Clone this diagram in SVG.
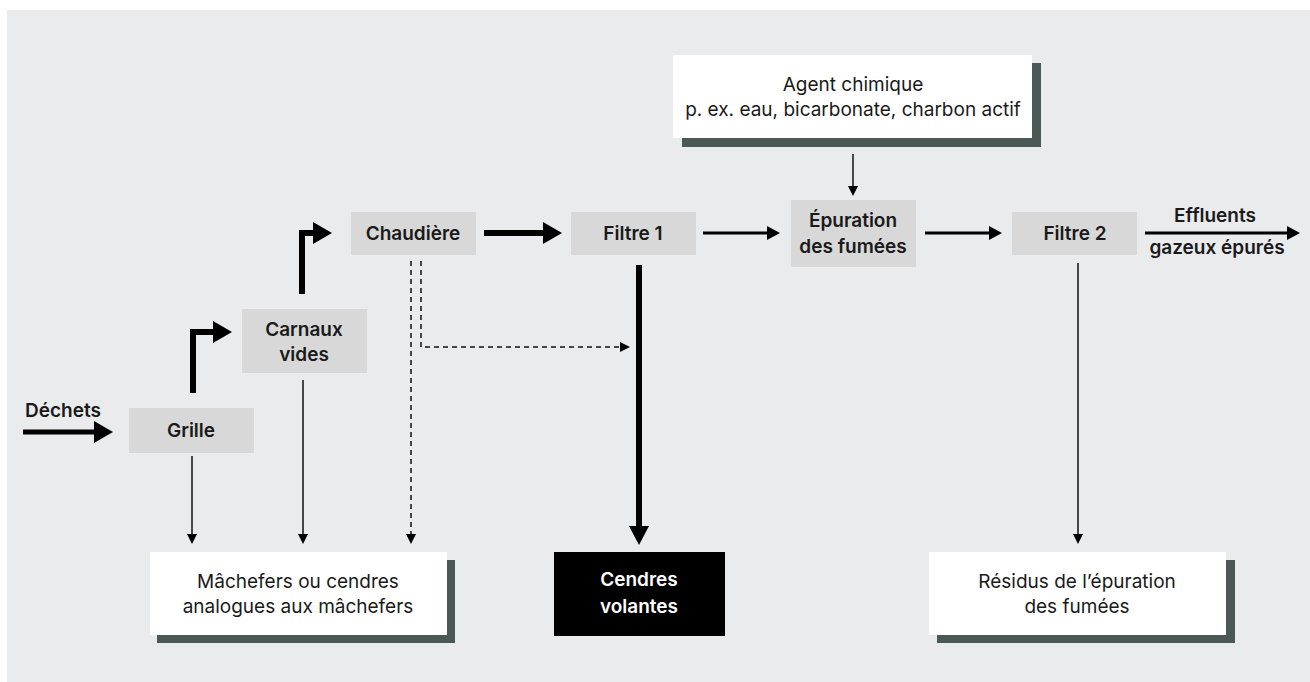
<svg xmlns="http://www.w3.org/2000/svg" width="1310" height="682" viewBox="0 0 1310 682">
<defs>
<style>
.bg{fill:#eaebed}
.proc{fill:#d8d8d8}
.out{fill:#ffffff}
.shadow{fill:#4a5955}
.t{font-family:Inter,"Noto Sans","Liberation Sans",sans-serif;font-size:19px;fill:#1a1a1a;text-anchor:middle}
.b{font-weight:600}
.w{fill:#ffffff}
.thin{stroke:#111;stroke-width:1.5;fill:none}
.med{stroke:#000;stroke-width:3;fill:none}
.thick{stroke:#000;stroke-width:6;fill:none}
.dash{stroke:#111;stroke-width:1.5;fill:none;stroke-dasharray:5 4}
.head{fill:#000}
</style>
</defs>
<rect class="bg" x="7" y="10" width="1303" height="672"/>

<g id="connectors">
  <!-- Déchets -> Grille -->
  <line x1="23" y1="432" x2="96" y2="432" stroke="#000" stroke-width="5"/>
  <polygon class="head" points="94,421 113,432 94,443"/>
  <!-- Grille -> Carnaux elbow -->
  <polyline class="thick" points="193,393 193,332 216,332"/>
  <polygon class="head" points="213,321 232,332 213,343"/>
  <!-- Carnaux -> Chaudière elbow -->
  <polyline class="thick" points="302,294 302,233 316,233"/>
  <polygon class="head" points="313,222 332,233 313,244"/>
  <!-- Chaudière -> Filtre 1 -->
  <line class="thick" x1="484" y1="233" x2="545" y2="233"/>
  <polygon class="head" points="543,222 562,233 543,244"/>
  <!-- Filtre 1 -> Épuration -->
  <line class="med" x1="703" y1="233" x2="770" y2="233"/>
  <polygon class="head" points="767,226 780,233 767,240"/>
  <!-- Épuration -> Filtre 2 -->
  <line class="med" x1="925" y1="233" x2="992" y2="233"/>
  <polygon class="head" points="989,226 1002,233 989,240"/>
  <!-- Filtre 2 -> Effluents -->
  <line class="med" x1="1145" y1="233" x2="1290" y2="233"/>
  <polygon class="head" points="1287,226 1300,233 1287,240"/>
  <!-- Agent -> Épuration -->
  <line class="thin" x1="853" y1="154" x2="853" y2="188"/>
  <polygon class="head" points="848,186 853,196 858,186"/>
  <!-- Filtre 1 -> Cendres volantes -->
  <line class="thick" x1="639" y1="265" x2="639" y2="528"/>
  <polygon class="head" points="629,526 639,545 649,526"/>
  <!-- Filtre 2 -> Résidus -->
  <line class="thin" x1="1078" y1="263" x2="1078" y2="536"/>
  <polygon class="head" points="1073,534 1078,544 1083,534"/>
  <!-- Grille -> Mâchefers -->
  <line class="thin" x1="192" y1="456" x2="192" y2="536"/>
  <polygon class="head" points="187,534 192,544 197,534"/>
  <!-- Carnaux -> Mâchefers -->
  <line class="thin" x1="303" y1="380" x2="303" y2="536"/>
  <polygon class="head" points="298,534 303,544 308,534"/>
  <!-- Chaudière -> Mâchefers (dashed) -->
  <line class="dash" x1="411" y1="261" x2="411" y2="536"/>
  <polygon class="head" points="406,534 411,544 416,534"/>
  <!-- Chaudière -> Filtre 1 line (dashed) -->
  <polyline class="dash" points="421,261 421,347 622,347"/>
  <polygon class="head" points="620,342 630,347 620,352"/>
</g>

<g id="dechets">
  <text class="t b" x="63" y="417">Déchets</text>
</g>
<g id="grille">
  <rect class="proc" x="129" y="408" width="125" height="45"/>
  <text class="t b" x="191" y="437">Grille</text>
</g>
<g id="carnaux">
  <rect class="proc" x="242" y="309" width="125" height="64"/>
  <text class="t b" x="304" y="336">Carnaux</text>
  <text class="t b" x="304" y="361">vides</text>
</g>
<g id="chaudiere">
  <rect class="proc" x="351" y="212" width="125" height="43"/>
  <text class="t b" x="413" y="240">Chaudière</text>
</g>
<g id="filtre1">
  <rect class="proc" x="571" y="212" width="125" height="43"/>
  <text class="t b" x="633" y="240">Filtre 1</text>
</g>
<g id="agent">
  <rect class="shadow" x="682" y="63" width="359" height="84"/>
  <rect class="out" x="673" y="55" width="359" height="83"/>
  <text class="t" x="853" y="91">Agent chimique</text>
  <text class="t" x="853" y="116">p. ex. eau, bicarbonate, charbon actif</text>
</g>
<g id="epuration">
  <rect class="proc" x="791" y="200" width="125" height="67"/>
  <text class="t b" x="853" y="227">Épuration</text>
  <text class="t b" x="853" y="253">des fumées</text>
</g>
<g id="filtre2">
  <rect class="proc" x="1012" y="212" width="125" height="43"/>
  <text class="t b" x="1075" y="240">Filtre 2</text>
</g>
<g id="effluents">
  <text class="t b" x="1215" y="222">Effluents</text>
  <text class="t b" x="1217" y="254">gazeux épurés</text>
</g>
<g id="machefers">
  <rect class="shadow" x="157" y="560" width="298" height="83"/>
  <rect class="out" x="150" y="552" width="297" height="83"/>
  <text class="t" x="298" y="588">Mâchefers ou cendres</text>
  <text class="t" x="298" y="613">analogues aux mâchefers</text>
</g>
<g id="cendres">
  <rect fill="#000" x="554" y="552" width="171" height="84"/>
  <text class="t b w" x="639" y="586">Cendres</text>
  <text class="t b w" x="639" y="613">volantes</text>
</g>
<g id="residus">
  <rect class="shadow" x="937" y="560" width="298" height="83"/>
  <rect class="out" x="929" y="552" width="297" height="83"/>
  <text class="t" x="1077" y="588">Résidus de l’épuration</text>
  <text class="t" x="1077" y="613">des fumées</text>
</g>
</svg>
